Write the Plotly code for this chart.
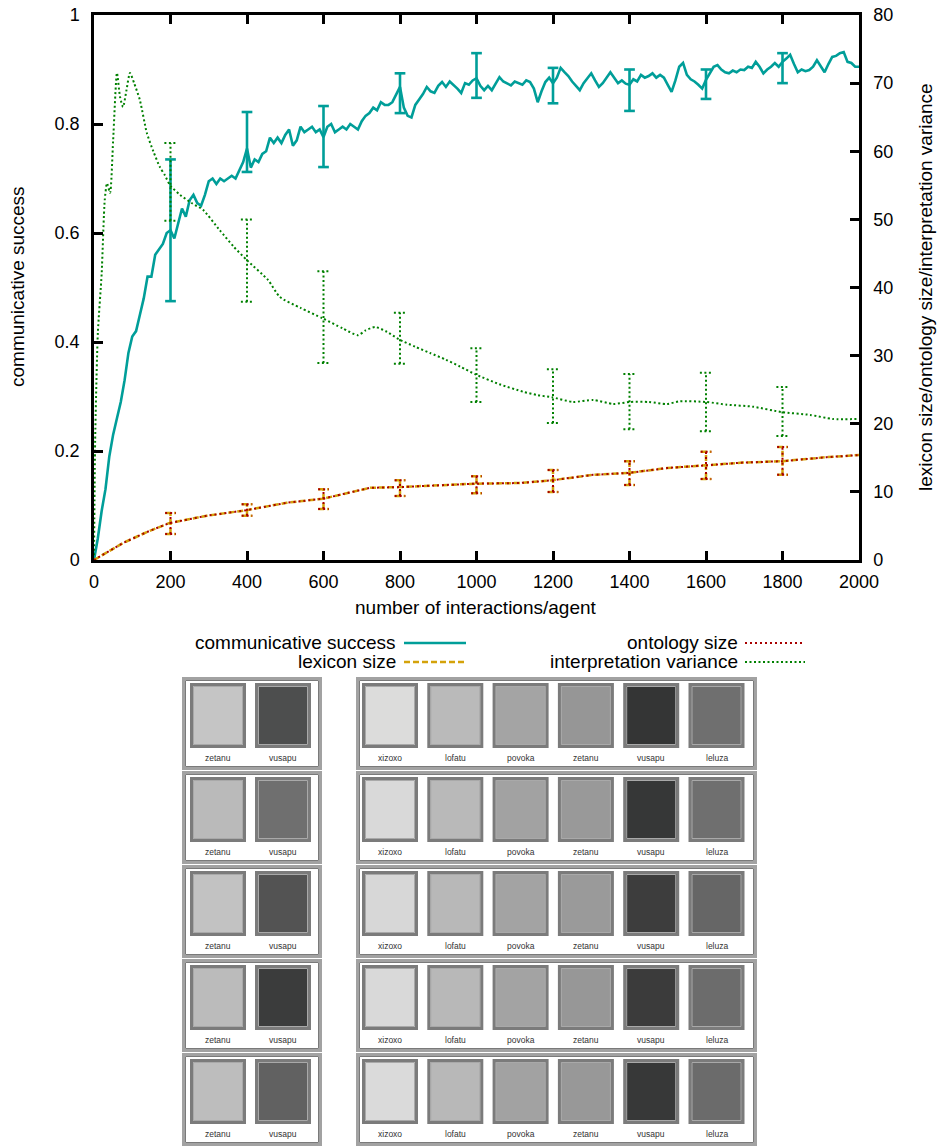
import plotly.graph_objects as go

# ---------------- data ----------------
cs_x = list(range(0, 2001, 10))
cs_y = [0.00, 0.04, 0.09, 0.13, 0.19, 0.23, 0.26, 0.29, 0.33, 0.38,
        0.41, 0.42, 0.45, 0.48, 0.52, 0.52, 0.56, 0.57, 0.58, 0.60,
        0.605, 0.59, 0.62, 0.645, 0.63, 0.66, 0.67, 0.655, 0.65, 0.67,
        0.695, 0.70, 0.69, 0.70, 0.695, 0.70, 0.705, 0.70, 0.715, 0.73,
        0.755, 0.72, 0.735, 0.73, 0.745, 0.75, 0.775, 0.765, 0.775, 0.765,
        0.78, 0.79, 0.76, 0.77, 0.795, 0.785, 0.79, 0.795, 0.785, 0.79,
        0.776, 0.795, 0.80, 0.785, 0.79, 0.795, 0.79, 0.80, 0.795, 0.79,
        0.805, 0.815, 0.82, 0.83, 0.825, 0.84, 0.835, 0.835, 0.84, 0.855,
        0.868, 0.83, 0.815, 0.812, 0.835, 0.845, 0.855, 0.868, 0.86, 0.857,
        0.87, 0.877, 0.868, 0.878, 0.872, 0.865, 0.857, 0.875, 0.872, 0.88,
        0.884, 0.87, 0.862, 0.87, 0.862, 0.875, 0.886, 0.878, 0.875, 0.871,
        0.878, 0.875, 0.872, 0.88, 0.877, 0.865, 0.84, 0.86, 0.877, 0.885,
        0.875, 0.885, 0.903, 0.895, 0.888, 0.878, 0.87, 0.862, 0.875, 0.885,
        0.893, 0.88, 0.868, 0.875, 0.885, 0.895, 0.885, 0.875, 0.88, 0.874,
        0.872, 0.882, 0.878, 0.89, 0.885, 0.888, 0.893, 0.885, 0.89, 0.885,
        0.872, 0.859, 0.88, 0.905, 0.912, 0.89, 0.882, 0.878, 0.872, 0.865,
        0.881, 0.893, 0.905, 0.908, 0.90, 0.895, 0.893, 0.898, 0.895, 0.90,
        0.899, 0.905, 0.903, 0.914, 0.905, 0.893, 0.90, 0.905, 0.912, 0.905,
        0.914, 0.92, 0.927, 0.91, 0.895, 0.90, 0.897, 0.899, 0.905, 0.917,
        0.905, 0.895, 0.91, 0.923, 0.925, 0.93, 0.932, 0.914, 0.912, 0.905,
        0.905]

iv_x = [0, 3, 10, 20, 28, 34, 42, 50, 60, 68, 76, 85, 94, 105, 120, 138, 155, 172,
        185, 199, 225, 255, 285, 329, 365, 400, 455, 486, 540, 597, 650, 690, 710,
        735, 766, 797, 840, 878, 920, 957, 999, 1060, 1122, 1160, 1197, 1252, 1305,
        1357, 1401, 1450, 1498, 1532, 1600, 1655, 1723, 1799, 1872, 1932, 2000]
iv_y = [0, 17.6, 33.3, 42, 52.8, 55.3, 53.9, 61.6, 71.5, 68, 66.5, 69, 71.5, 70,
        67.5, 62.7, 60, 57.7, 56.5, 55, 53.6, 52.4, 51.4, 48.4, 46, 44, 41.1, 38.6,
        37, 35.5, 34, 33, 33.7, 34.2, 33.5, 32.4, 31.3, 30.4, 29.4, 28.4, 27.2, 25.8,
        24.7, 24.2, 23.9, 23.2, 23.5, 22.9, 23.2, 23.2, 22.9, 23.3, 23.2, 22.8, 22.5,
        21.7, 21.3, 20.7, 20.7]

lex_x = [0, 76, 138, 196, 295, 397, 504, 599, 722, 797, 996, 1114, 1197, 1305,
         1401, 1498, 1600, 1697, 1799, 1916, 2000]
lex_y = [0, 2.5, 4.1, 5.4, 6.5, 7.3, 8.4, 9.0, 10.6, 10.7, 11.2, 11.3, 11.7, 12.5,
         12.8, 13.5, 13.9, 14.3, 14.5, 15.1, 15.4]
ont_x = lex_x
ont_y = lex_y

err_x = [200, 400, 600, 800, 1000, 1200, 1400, 1600, 1800]
cs_err_c = [0.605, 0.755, 0.776, 0.868, 0.884, 0.875, 0.872, 0.881, 0.914]
cs_err_hi = [0.735, 0.822, 0.833, 0.893, 0.930, 0.903, 0.900, 0.900, 0.930]
cs_err_lo = [0.475, 0.712, 0.721, 0.820, 0.848, 0.838, 0.824, 0.846, 0.875]

iv_err_hi = [61.2, 50.0, 42.4, 36.3, 31.1, 28.0, 27.3, 27.5, 25.4]
iv_err_lo = [49.8, 37.9, 28.9, 28.8, 23.2, 20.1, 19.2, 18.9, 18.2]

lex_err_hi = [6.9, 8.2, 10.4, 11.7, 12.3, 13.2, 14.5, 15.9, 16.6]
lex_err_lo = [3.8, 6.5, 7.5, 9.4, 9.8, 10.0, 11.0, 11.9, 12.5]

x_ticks = list(range(0, 2001, 200))
y_ticks = [0, 0.2, 0.4, 0.6, 0.8, 1]
y2_ticks = list(range(0, 81, 10))

left_names = ["zetanu", "vusapu"]
right_names = ["xizoxo", "lofatu", "povoka", "zetanu", "vusapu", "leluza"]
left_colors = [["#c5c5c5", "#4d4e4e"], ["#bababa", "#6f6f6f"], ["#c2c2c2", "#535353"],
               ["#bbbbbb", "#3b3c3c"], ["#bdbdbd", "#616161"]]
right_colors = [
    ["#dcdcdb", "#bababa", "#a4a4a4", "#969696", "#343535", "#6f6f6f"],
    ["#d9d9d9", "#b9b9b9", "#a2a2a2", "#999999", "#363737", "#6f6f6f"],
    ["#d7d7d7", "#b8b8b8", "#a3a3a3", "#9a9a9a", "#3d3d3d", "#666666"],
    ["#d9d9d9", "#b8b8b8", "#a3a3a3", "#979797", "#3b3b3b", "#6c6c6c"],
    ["#dadada", "#b8b8b8", "#a2a2a2", "#989898", "#373838", "#6b6b6b"],
]

# ---------------- styling ----------------
W, H = 940, 1147
OFF = 0  # body margin removed by post_script below
FONT = "Helvetica, Arial, 'Liberation Sans', sans-serif"
TEAL = "#009e99"
GOLD = "#d4a20a"
DRED = "#a80000"
GREEN = "#008000"
X0, X1, Y0, Y1 = 94, 859, 15, 560  # plot area in page px


def px(x):
    return (x - OFF) / W


def py(y):
    return 1 - (y - OFF) / H


def err_segments(xs, lo, hi, cap):
    sx, sy = [], []
    for x, l, h in zip(xs, lo, hi):
        sx += [x, x, None, x - cap, x + cap, None, x - cap, x + cap, None]
        sy += [l, h, None, h, h, None, l, l, None]
    return sx, sy


fig = go.Figure()

# interpretation variance
fig.add_trace(go.Scatter(x=iv_x, y=iv_y, yaxis="y2", mode="lines",
                         line=dict(color=GREEN, width=2, dash="2px,2.5px", shape="spline", smoothing=0.6),
                         showlegend=False))
ex, ey = err_segments(err_x, iv_err_lo, iv_err_hi, 16)
fig.add_trace(go.Scatter(x=ex, y=ey, yaxis="y2", mode="lines",
                         line=dict(color=GREEN, width=2, dash="2px,2.5px"), showlegend=False))

# lexicon size (gold dashed) + ontology size (dark red dotted)
fig.add_trace(go.Scatter(x=lex_x, y=lex_y, yaxis="y2", mode="lines",
                         line=dict(color=GOLD, width=2.5, dash="6px,3px"), showlegend=False))
ex, ey = err_segments(err_x, lex_err_lo, lex_err_hi, 14)
fig.add_trace(go.Scatter(x=ex, y=ey, yaxis="y2", mode="lines",
                         line=dict(color=GOLD, width=2.5, dash="6px,3px"), showlegend=False))
fig.add_trace(go.Scatter(x=ont_x, y=ont_y, yaxis="y2", mode="lines",
                         line=dict(color=DRED, width=2, dash="2px,3px"), showlegend=False))
fig.add_trace(go.Scatter(x=ex, y=ey, yaxis="y2", mode="lines",
                         line=dict(color=DRED, width=2, dash="2px,3px"), showlegend=False))

# communicative success
fig.add_trace(go.Scatter(x=cs_x, y=cs_y, yaxis="y", mode="lines",
                         line=dict(color=TEAL, width=2.6), showlegend=False))
ex, ey = err_segments(err_x, cs_err_lo, cs_err_hi, 14)
fig.add_trace(go.Scatter(x=ex, y=ey, yaxis="y", mode="lines",
                         line=dict(color=TEAL, width=2.6), showlegend=False))

axis_common = dict(showgrid=False, zeroline=False, showline=True, linecolor="black",
                   linewidth=2.5, ticks="inside", ticklen=9, tickwidth=2.5, tickcolor="black",
                   automargin=False, ticklabeloverflow="allow",
                   tickfont=dict(family=FONT, size=18, color="black"))

fig.update_layout(
    width=W, height=H, autosize=False,
    margin=dict(l=0, r=0, t=0, b=0, pad=0),
    paper_bgcolor="white", plot_bgcolor="white",
    font=dict(family=FONT, color="black"),
    showlegend=False,
    xaxis=dict(domain=[px(X0), px(X1)], range=[0, 2000], tickvals=x_ticks,
               mirror="ticks", anchor="y", ticklabelstandoff=4, **axis_common),
    yaxis=dict(domain=[py(Y1), py(Y0)], range=[0, 1], tickvals=y_ticks,
               mirror=False, anchor="x", ticklabelstandoff=8, **axis_common),
    yaxis2=dict(domain=[py(Y1), py(Y0)], range=[0, 80], tickvals=y2_ticks,
                overlaying="y", side="right", anchor="x", ticklabelstandoff=8, **axis_common),
)

annotations = []
shapes = []
TF = dict(family=FONT, size=19, color="black")
annotations.append(dict(text="number of interactions/agent", x=px(476), y=py(607),
                        xref="paper", yref="paper", showarrow=False, font=TF,
                        xanchor="center", yanchor="middle"))
annotations.append(dict(text="communicative success", x=px(17), y=py(287),
                        xref="paper", yref="paper", showarrow=False, font=TF, textangle=-90,
                        xanchor="center", yanchor="middle"))
annotations.append(dict(text="lexicon size/ontology size/interpretation variance", x=px(925), y=py(287),
                        xref="paper", yref="paper", showarrow=False, font=TF, textangle=-90,
                        xanchor="center", yanchor="middle"))

# legend (manual, gnuplot style: text right-aligned, sample to the right)
legend_items = [
    ("communicative success", 398, 642, 404, 466, TEAL, 2.6, "solid"),
    ("lexicon size", 398, 661, 404, 466, GOLD, 2.5, "6px,3px"),
    ("ontology size", 740, 642, 745, 805, DRED, 2, "2px,3px"),
    ("interpretation variance", 740, 661, 745, 805, GREEN, 2, "2px,2.5px"),
]
for text, tx, ty, sx0, sx1, col, lw, dash in legend_items:
    annotations.append(dict(text=text, x=px(tx), y=py(ty), xref="paper", yref="paper",
                            showarrow=False, font=TF, xanchor="right", yanchor="middle"))
    shapes.append(dict(type="line", xref="paper", yref="paper", x0=px(sx0), x1=px(sx1),
                       y0=py(ty + 1), y1=py(ty + 1), line=dict(color=col, width=lw, dash=dash)))

# bottom panel of colour swatches
ROW_TOP, ROW_PITCH = 677, 94
BOX_H = 93
boxes = [(182, 322, 190, 65.0, left_names, left_colors),
         (356, 757, 362, 65.3, right_names, right_colors)]
SW_W, SW_H = 56, 65


def rect(x0, y0, x1, y1, fill, lc, lw):
    return dict(type="rect", xref="paper", yref="paper", x0=px(x0), x1=px(x1),
                y0=py(y1), y1=py(y0), fillcolor=fill, line=dict(color=lc, width=lw), layer="above")


for r in range(5):
    top = ROW_TOP + r * ROW_PITCH
    for bx0, bx1, sx0, pitch, names, colors in boxes:
        shapes.append(rect(bx0 + 1.5, top + 1.5, bx1 - 1.5, top + BOX_H - 1.5, "white", "#a2a2a2", 3))
        shapes.append(rect(bx0 + 3.5, top + 3.5, bx1 - 3.5, top + BOX_H - 3.5, "rgba(0,0,0,0)", "#7a7a7a", 1))
        for i, (nm, col) in enumerate(zip(names, colors[r])):
            x0 = sx0 + i * pitch
            shapes.append(rect(x0 + 1.5, top + 7.5, x0 + SW_W - 1.5, top + 6 + SW_H - 1.5, col, "#7b7b7b", 3))
            shapes.append(rect(x0 + 3.5, top + 9.5, x0 + SW_W - 3.5, top + 6 + SW_H - 3.5,
                               "rgba(0,0,0,0)", "#a9a9a9", 1))
            annotations.append(dict(text=nm, x=px(x0 + SW_W / 2), y=py(top + 81), xref="paper",
                                    yref="paper", showarrow=False,
                                    font=dict(family=FONT, size=8.5, color="#333333"),
                                    xanchor="center", yanchor="middle"))

fig.update_layout(annotations=annotations, shapes=shapes)
fig.write_html("out.html", config={"displayModeBar": False},
               post_script="document.body.style.margin='0';document.body.style.overflow='hidden';")
